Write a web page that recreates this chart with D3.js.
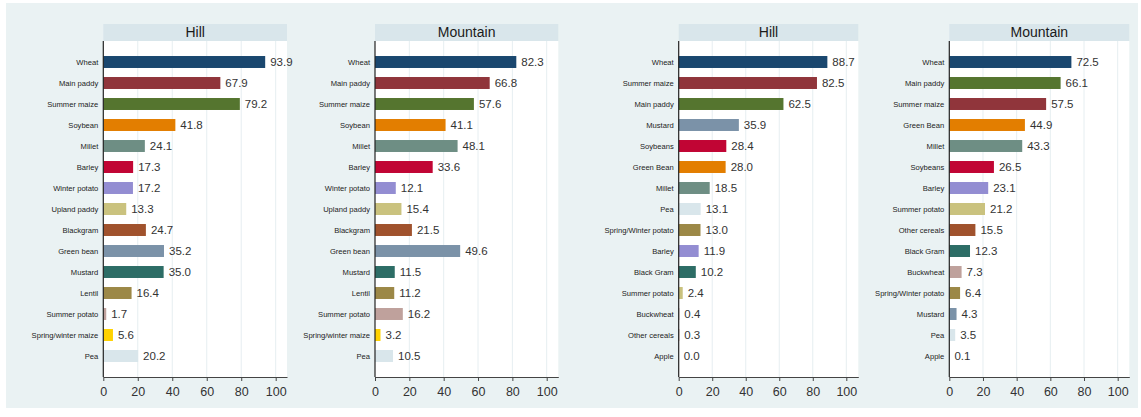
<!DOCTYPE html>
<html><head><meta charset="utf-8">
<script src="https://cdn.jsdelivr.net/npm/d3@7"></script>
<style>html,body{margin:0;padding:0;background:#fff;}svg{display:block;font-family:"Liberation Sans",Arial,sans-serif;}</style>
</head><body><svg id="c" width="1141" height="417"></svg>
<script>
// ---- data ----
const leftHillCats = ["Wheat","Main paddy","Summer maize","Soybean","Millet","Barley","Winter potato","Upland paddy","Blackgram","Green bean","Mustard","Lentil","Summer potato","Spring/winter maize","Pea"];
const leftHillVals = [93.9,67.9,79.2,41.8,24.1,17.3,17.2,13.3,24.7,35.2,35.0,16.4,1.7,5.6,20.2];
const leftMountainCats = leftHillCats;
const leftMountainVals = [82.3,66.8,57.6,41.1,48.1,33.6,12.1,15.4,21.5,49.6,11.5,11.2,16.2,3.2,10.5];

const rightHillCats = ["Wheat","Summer maize","Main paddy","Mustard","Soybeans","Green Bean","Millet","Pea","Spring/Winter potato","Barley","Black Gram","Summer potato","Buckwheat","Other cereals","Apple"];
const rightHillVals = [88.7,82.5,62.5,35.9,28.4,28.0,18.5,13.1,13.0,11.9,10.2,2.4,0.4,0.3,0.0];
const rightMountainCats = ["Wheat","Main paddy","Summer maize","Green Bean","Millet","Soybeans","Barley","Summer potato","Other cereals","Black Gram","Buckwheat","Spring/Winter potato","Mustard","Pea","Apple"];
const rightMountainVals = [72.5,66.1,57.5,44.9,43.3,26.5,23.1,21.2,15.5,12.3,7.3,6.4,4.3,3.5,0.1];

const panelTitles = ["Hill","Mountain","Hill","Mountain"];
const xTicks = [0,20,40,60,80,100];

// Stata s2color palette
const palette = ["#1a476f","#90353b","#55752f","#e37e00","#6e8e84","#c10534","#938dd2","#cac27e","#a0522d","#7b92a8","#2d6d66","#9c8847","#bfa19c","#ffd200","#d9e6eb"];
const leftColorOf = {"Wheat":0,"Main paddy":1,"Summer maize":2,"Soybean":3,"Millet":4,"Barley":5,"Winter potato":6,"Upland paddy":7,"Blackgram":8,"Green bean":9,"Mustard":10,"Lentil":11,"Summer potato":12,"Spring/winter maize":13,"Pea":14};
const rightColorOf = {"Wheat":0,"Summer maize":1,"Main paddy":2,"Green Bean":3,"Millet":4,"Soybeans":5,"Barley":6,"Summer potato":7,"Other cereals":8,"Mustard":9,"Black Gram":10,"Spring/Winter potato":11,"Buckwheat":12,"Apple":13,"Pea":14};

const panels = [
  {cats:leftHillCats, vals:leftHillVals, title:panelTitles[0], cmap:leftColorOf, x0:103.3, right:287, x100:275.7},
  {cats:leftMountainCats, vals:leftMountainVals, title:panelTitles[1], cmap:leftColorOf, x0:375, right:558.3, x100:546.7},
  {cats:rightHillCats, vals:rightHillVals, title:panelTitles[2], cmap:rightColorOf, x0:678.7, right:858.3, x100:846.3},
  {cats:rightMountainCats, vals:rightMountainVals, title:panelTitles[3], cmap:rightColorOf, x0:949.3, right:1129.3, x100:1117.7}
];

const svg = d3.select("#c");
svg.append("rect").attr("x",6).attr("y",3).attr("width",1132).attr("height",405).attr("fill","#eaf2f3");

const plotTop = 41, plotBottom = 377;
panels.forEach(p => {
  const g = svg.append("g");
  const dmax = (p.right - p.x0) / (p.x100 - p.x0) * 100;
  const x = d3.scaleLinear().domain([0, dmax]).range([p.x0, p.right]);
  const y = d3.scaleBand().domain(p.cats).range([plotTop, plotBottom]).paddingInner(0.43).paddingOuter(0.715);

  g.append("rect").attr("x", p.x0).attr("y", plotTop).attr("width", p.right - p.x0).attr("height", plotBottom - plotTop).attr("fill", "#fff");
  g.append("rect").attr("x", p.x0).attr("y", 24).attr("width", p.right - p.x0).attr("height", 17).attr("fill", "#d9e6eb");
  g.append("text").attr("x", (p.x0 + p.right)/2).attr("y", 37).attr("text-anchor","middle")
    .attr("font-size", 14).attr("fill", "#1a1a1a").text(p.title);

  g.selectAll(".grid").data(xTicks.filter(t => t > 0)).enter().append("line")
    .attr("x1", d => x(d)).attr("x2", d => x(d)).attr("y1", plotTop).attr("y2", plotBottom)
    .attr("stroke", "#e6eef1").attr("stroke-width", 1);

  g.selectAll(".bar").data(p.cats).enter().append("rect")
    .attr("x", x(0)).attr("y", d => y(d))
    .attr("width", (d,i) => Math.max(0, x(p.vals[i]) - x(0)))
    .attr("height", y.bandwidth())
    .attr("fill", d => palette[p.cmap[d]]);

  g.selectAll(".val").data(p.cats).enter().append("text")
    .attr("x", (d,i) => x(p.vals[i]) + 5)
    .attr("y", d => y(d) + y.bandwidth()/2 + 4)
    .attr("font-size", 11.5).attr("fill", "#333")
    .text((d,i) => p.vals[i].toFixed(1));

  g.selectAll(".cat").data(p.cats).enter().append("text")
    .attr("x", x(0) - 5)
    .attr("y", d => y(d) + y.bandwidth()/2 + 3)
    .attr("text-anchor", "end").attr("font-size", 7.6).attr("fill", "#222")
    .text(d => d);

  const ax = d3.axisBottom(x).tickValues(xTicks).tickSize(4).tickSizeOuter(0).tickFormat(d3.format("d"));
  const axg = g.append("g").attr("transform", `translate(0,${plotBottom})`).call(ax);
  axg.select(".domain").attr("stroke", "#444");
  axg.selectAll(".tick line").attr("stroke", "#444");
  axg.selectAll(".tick text").attr("font-size", 12.5).attr("fill", "#333").attr("dy", "0.95em")
    .attr("font-family", '"Liberation Sans",Arial,sans-serif');

  g.append("line").attr("x1", x(0)).attr("x2", x(0)).attr("y1", plotTop).attr("y2", plotBottom)
    .attr("stroke", "#222").attr("stroke-width", 1.2);
});
</script></body></html>
